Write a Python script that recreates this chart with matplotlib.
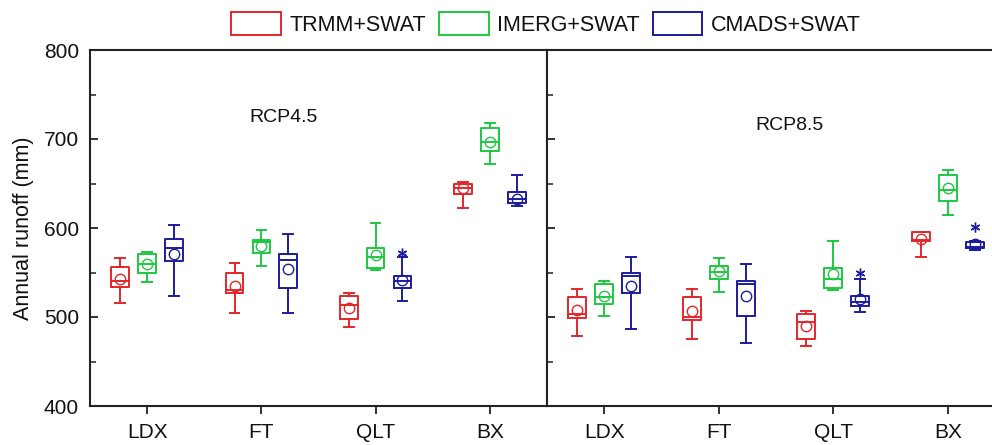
import matplotlib
matplotlib.use("Agg")
import matplotlib.pyplot as plt
from matplotlib.patches import Patch
from matplotlib.ticker import MultipleLocator

plt.rcParams['font.family'] = ['Liberation Sans', 'DejaVu Sans']

regions = ["LDX", "FT", "QLT", "BX"]
products = ["TRMM+SWAT", "IMERG+SWAT", "CMADS+SWAT"]
colors = ["#e3262b", "#1fc843", "#1c1c9c"]
scenarios = ["RCP4.5", "RCP8.5"]

# per scenario, per product: values for LDX, FT, QLT, BX
rcp45_whislo = {"TRMM+SWAT": [516, 504, 489, 623], "IMERG+SWAT": [539, 557, 553, 672], "CMADS+SWAT": [524, 504, 518, 625]}
rcp45_q1 = {"TRMM+SWAT": [534, 527, 498, 638], "IMERG+SWAT": [550, 572, 555, 686], "CMADS+SWAT": [563, 533, 533, 628]}
rcp45_med = {"TRMM+SWAT": [540, 530, 513, 645], "IMERG+SWAT": [560, 584, 567, 697], "CMADS+SWAT": [577, 564, 540, 633]}
rcp45_q3 = {"TRMM+SWAT": [556, 550, 524, 650], "IMERG+SWAT": [571, 586, 578, 712], "CMADS+SWAT": [588, 571, 546, 640]}
rcp45_whishi = {"TRMM+SWAT": [566, 561, 527, 652], "IMERG+SWAT": [573, 598, 606, 718], "CMADS+SWAT": [603, 593, 567, 660]}
rcp45_mean = {"TRMM+SWAT": [543, 535, 510, 645], "IMERG+SWAT": [559, 580, 570, 697], "CMADS+SWAT": [571, 554, 542, 633]}
rcp45_out = {"TRMM+SWAT": [None, None, None, None], "IMERG+SWAT": [None, None, None, None], "CMADS+SWAT": [None, None, 572, None]}

rcp85_whislo = {"TRMM+SWAT": [479, 475, 467, 567], "IMERG+SWAT": [501, 528, 530, 615], "CMADS+SWAT": [486, 471, 506, 575]}
rcp85_q1 = {"TRMM+SWAT": [499, 497, 475, 585], "IMERG+SWAT": [515, 543, 533, 630], "CMADS+SWAT": [527, 501, 512, 577]}
rcp85_med = {"TRMM+SWAT": [503, 500, 494, 587], "IMERG+SWAT": [523, 551, 543, 643], "CMADS+SWAT": [546, 537, 517, 579]}
rcp85_q3 = {"TRMM+SWAT": [522, 522, 503, 595], "IMERG+SWAT": [537, 557, 555, 660], "CMADS+SWAT": [550, 541, 524, 584]}
rcp85_whishi = {"TRMM+SWAT": [532, 532, 507, 596], "IMERG+SWAT": [540, 566, 585, 665], "CMADS+SWAT": [567, 560, 543, 585]}
rcp85_mean = {"TRMM+SWAT": [508, 507, 490, 588], "IMERG+SWAT": [524, 552, 548, 645], "CMADS+SWAT": [535, 524, 520, 582]}
rcp85_out = {"TRMM+SWAT": [None, None, None, None], "IMERG+SWAT": [None, None, None, None], "CMADS+SWAT": [None, None, 549, 601]}

data = [
    (rcp45_whislo, rcp45_q1, rcp45_med, rcp45_q3, rcp45_whishi, rcp45_mean, rcp45_out),
    (rcp85_whislo, rcp85_q1, rcp85_med, rcp85_q3, rcp85_whishi, rcp85_mean, rcp85_out),
]

fig = plt.figure(figsize=(9.92, 4.45), dpi=100)
W, H = 992, 445
axL = fig.add_axes([90 / W, 1 - 406 / H, 457 / W, 356 / H])
axR = fig.add_axes([547 / W, 1 - 406 / H, 458 / W, 356 / H])

offsets = [-0.235, 0.0, 0.235]
box_w = 0.155
spine_c = "#222222"
txt_c = "#111111"

for k, (ax, sc) in enumerate(zip([axL, axR], scenarios)):
    wlo, q1, med, q3, whi, mn, out = data[k]
    for j, p in enumerate(products):
        stats = []
        for i in range(len(regions)):
            fl = [out[p][i]] if out[p][i] is not None else []
            stats.append(dict(whislo=wlo[p][i], q1=q1[p][i], med=med[p][i], q3=q3[p][i],
                              whishi=whi[p][i], mean=mn[p][i], fliers=fl))
        pos = [i + 1 + offsets[j] for i in range(len(regions))]
        c = colors[j]
        ax.bxp(stats, positions=pos, widths=box_w, showmeans=True, showfliers=True,
               capwidths=box_w * 0.55,
               boxprops=dict(color=c, linewidth=1.4),
               medianprops=dict(color=c, linewidth=1.4),
               whiskerprops=dict(color=c, linewidth=1.4),
               capprops=dict(color=c, linewidth=1.4),
               meanprops=dict(marker='o', markerfacecolor='none', markeredgecolor=c,
                              markersize=7.5, markeredgewidth=1.0),
               flierprops=dict(marker=(6, 2, 0), markeredgecolor=c, markerfacecolor=c,
                               markersize=7, markeredgewidth=1.0))
    ax.set_xlim(0.5, 4.5)
    ax.set_ylim(400, 800)
    ax.set_xticks(range(1, len(regions) + 1))
    ax.set_xticklabels(regions, fontsize=15, color=txt_c)
    ax.yaxis.set_major_locator(MultipleLocator(100))
    ax.yaxis.set_minor_locator(MultipleLocator(50))
    ax.tick_params(axis='x', direction='out', length=6, width=1.3, color=spine_c, pad=6)
    ax.tick_params(axis='y', which='major', direction='in', length=6, width=1.3, color=spine_c)
    ax.tick_params(axis='y', which='minor', direction='in', length=4, width=1.1, color=spine_c)
    for s in ax.spines.values():
        s.set_linewidth(1.5)
        s.set_color(spine_c)

axL.tick_params(axis='y', labelsize=15, labelcolor=txt_c, pad=8)
axR.tick_params(axis='y', labelleft=False)
axL.set_ylabel("Annual runoff (mm)", fontsize=15.5, color=txt_c, labelpad=7)
axL.text(2.19, 724, "RCP4.5", fontsize=14, ha='center', va='center', color=txt_c)
axR.text(2.62, 715, "RCP8.5", fontsize=14, ha='center', va='center', color=txt_c)

handles = [Patch(facecolor='none', edgecolor=c, linewidth=1.4) for c in colors]
fig.legend(handles, products, loc='center', bbox_to_anchor=(546 / W, 1 - 24 / H), ncol=3,
           frameon=False, fontsize=15.5, handlelength=2.3, handleheight=1.3,
           columnspacing=0.6, handletextpad=0.4, labelcolor=txt_c)

fig.savefig("out.png", dpi=100)
